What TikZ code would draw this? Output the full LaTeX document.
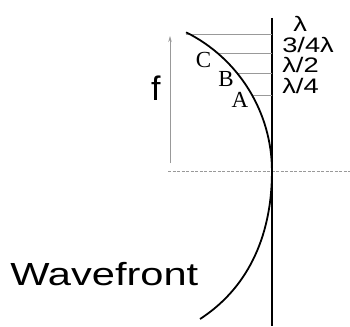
\documentclass[tikz,border=0pt]{standalone}
\usepackage{fontspec}
\setmainfont{Liberation Serif}
\newfontfamily\arialf{Liberation Sans}
\usetikzlibrary{arrows.meta}
\begin{document}
\begin{tikzpicture}[x=1pt,y=-1pt,
  lam/.style={inner sep=0pt, anchor=base west, font=\arialf\fontsize{21}{21}\selectfont, xscale=1.3},
  abc/.style={inner sep=0pt, font=\fontsize{23}{23}\selectfont},
  hatch/.style={draw=gray!80, line width=0.8pt},
  thin grey/.style={draw=gray!80, line width=0.8pt}
]
\useasboundingbox (0,0) rectangle (350,326);
% axis (vertical line)
\coordinate (vt) at (272,18);
\coordinate (vb) at (272,326);
\draw[line width=2pt] (vt) -- (vb);
% dashed horizontal line
\coordinate (dl) at (168,171);
\coordinate (dr) at (350,171);
\draw[thin grey, dash pattern=on 3pt off 1.5pt] (dl) -- (dr);
% hatch lines
\coordinate (h1a) at (186,34);   \coordinate (h1b) at (272,34);
\coordinate (h2a) at (218,53);   \coordinate (h2b) at (272,53);
\coordinate (h3a) at (237,73);   \coordinate (h3b) at (272,73);
\coordinate (h4a) at (252,95);   \coordinate (h4b) at (272,95);
\draw[hatch] (h1a) -- (h1b);
\draw[hatch] (h2a) -- (h2b);
\draw[hatch] (h3a) -- (h3b);
\draw[hatch] (h4a) -- (h4b);
% wavefront curve
\coordinate (ctop) at (186.1,32.3);
\coordinate (cbot) at (200,319);
\draw[line width=1.8pt] (ctop) arc[start angle=-63.5, end angle=0, radius=155]
  .. controls (272,240) and (245,290) .. (cbot);
% f arrow
\coordinate (fb) at (170,163);
\coordinate (ft) at (170,36);
\draw[thin grey, -{Stealth[length=6pt,width=3.5pt]}] (fb) -- (ft);
\node[inner sep=0pt, anchor=base west, font=\arialf\fontsize{34}{34}\selectfont] (f) at (151,100) {f};
% labels
\node[abc] (C) at (203.5,60) {C};
\node[abc] (B) at (226,79) {B};
\node[abc] (A) at (240,100) {A};
\node[lam] (l1) at (293,32) {λ};
\node[lam] (l2) at (282,53) {3/4λ};
\node[lam] (l3) at (282,73) {λ/2};
\node[lam] (l4) at (282,94) {λ/4};
\node[inner sep=0pt, anchor=base west, font=\arialf\fontsize{32}{32}\selectfont, xscale=1.3] (w) at (10,285) {Wavefront};
\end{tikzpicture}
\end{document}
